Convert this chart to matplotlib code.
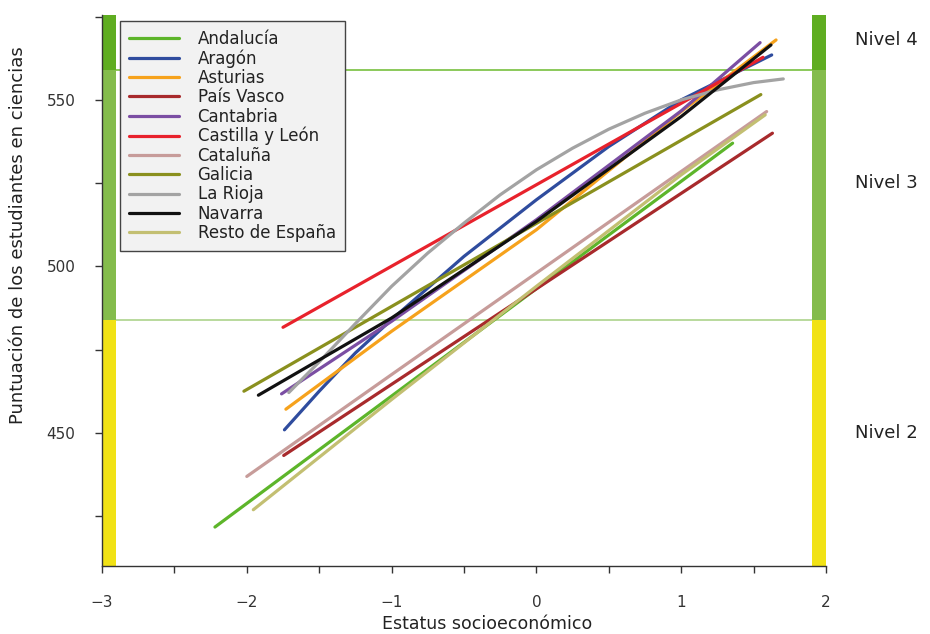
import matplotlib
matplotlib.use('Agg')
import matplotlib.pyplot as plt
import numpy as np

plt.rcParams['font.family'] = ['DejaVu Sans']

# regional lines: (x, y) points
regiones = ['Andalucía', 'Aragón', 'Asturias', 'País Vasco', 'Cantabria',
            'Castilla y León', 'Cataluña', 'Galicia', 'La Rioja', 'Navarra',
            'Resto de España']
colores = ['#5db52a', '#2f4c9e', '#f6a21c', '#a82a2c', '#7b4ea3',
           '#e8222c', '#c79c9a', '#8a901e', '#a3a3a3', '#111111', '#c3bf72']

andalucia_x = [-2.22, 1.355]
andalucia_y = [421.7, 537.0]
aragon_x = [-1.74, -1.5, -1.25, -1.0, -0.5, 0.0, 0.5, 1.0, 1.625]
aragon_y = [450.9, 462.5, 474.0, 484.0, 503.0, 520.0, 536.0, 550.0, 563.5]
asturias_x = [-1.73, -1.0, 0.0, 1.0, 1.655]
asturias_y = [457.1, 480.5, 511.0, 546.5, 568.0]
pais_vasco_x = [-1.745, 1.63]
pais_vasco_y = [443.2, 540.0]
cantabria_x = [-1.76, -1.0, 0.0, 1.0, 1.545]
cantabria_y = [461.7, 483.5, 514.0, 546.7, 567.2]
castilla_x = [-1.75, 1.565]
castilla_y = [481.7, 562.8]
cataluna_x = [-2.0, -1.0, 0.0, 1.0, 1.59]
cataluna_y = [436.9, 467.5, 498.0, 528.5, 546.5]
galicia_x = [-2.02, 1.55]
galicia_y = [462.5, 551.6]
rioja_x = [-1.71, -1.5, -1.25, -1.0, -0.75, -0.5, -0.25, 0.0, 0.25, 0.5, 0.75, 1.0, 1.25, 1.5, 1.705]
rioja_y = [462.1, 471.3, 482.8, 494.0, 504.0, 513.0, 521.5, 529.0, 535.5, 541.2, 546.0, 550.0, 553.0, 555.2, 556.3]
navarra_x = [-1.92, -1.0, 0.0, 1.0, 1.62]
navarra_y = [461.3, 484.5, 513.5, 545.0, 566.5]
resto_x = [-1.955, -1.0, 0.0, 1.0, 1.58]
resto_y = [426.9, 460.0, 494.0, 527.5, 545.5]

series_x = [andalucia_x, aragon_x, asturias_x, pais_vasco_x, cantabria_x,
            castilla_x, cataluna_x, galicia_x, rioja_x, navarra_x, resto_x]
series_y = [andalucia_y, aragon_y, asturias_y, pais_vasco_y, cantabria_y,
            castilla_y, cataluna_y, galicia_y, rioja_y, navarra_y, resto_y]

# proficiency levels
nivel_cortes = [484, 559]
nivel_labels = ['Nivel 2', 'Nivel 3', 'Nivel 4']
nivel_label_y = [450, 525, 568]

ymin, ymax = 410, 575.5
xmin, xmax = -3, 2

fig = plt.figure(figsize=(9.3, 6.34), dpi=100)
ax = fig.add_axes([102/930, 1-566/634, 724/930, 551/634])

# coloured bands on both sides
band_bottoms = [ymin, nivel_cortes[0], nivel_cortes[1]]
band_tops = [nivel_cortes[0], nivel_cortes[1], ymax + 1]
band_colors = ['#f1e215', '#84bc4c', '#5fad21']
for xb in [-3, 1.9]:
    ax.bar([xb]*3, np.array(band_tops) - np.array(band_bottoms), bottom=band_bottoms,
           width=0.1, align='edge', color=band_colors, linewidth=0, zorder=1)

ax.hlines(nivel_cortes, -2.9, 1.9, colors=['#a6d083', '#6cbb2d'], linewidth=1.1, zorder=1)

for name, c, xs, ys in zip(regiones, colores, series_x, series_y):
    ax.plot(xs, ys, color=c, linewidth=2.3, solid_capstyle='round',
            solid_joinstyle='round', label=name, zorder=3)

ax.set_xlim(xmin, xmax)
ax.set_ylim(ymin, ymax)

ax.spines['top'].set_visible(False)
ax.spines['right'].set_visible(False)
for s in ['left', 'bottom']:
    ax.spines[s].set_color('#333333')
    ax.spines[s].set_linewidth(1.0)

ax.set_xticks([-3, -2, -1, 0, 1, 2])
ax.set_xticklabels(['\u22123', '\u22122', '\u22121', '0', '1', '2'])
ax.set_xticks([-2.5, -1.5, -0.5, 0.5, 1.5], minor=True)
ax.set_yticks([450, 500, 550])
ax.set_yticks([425, 475, 525, 575], minor=True)
ax.tick_params(axis='both', which='both', direction='out', length=5, width=1,
               color='#333333', labelsize=11, labelcolor='#333333')
ax.tick_params(axis='x', which='major', pad=16)
ax.tick_params(axis='y', which='major', pad=14)

for lab, yv in zip(nivel_labels, nivel_label_y):
    ax.text(1.04, yv, lab, transform=ax.get_yaxis_transform(), ha='left',
            va='center', fontsize=13, color='#222222')

fig.text(487/930, 1-624/634, 'Estatus socioeconómico', ha='center', va='center',
         fontsize=12.5, color='#222222')
fig.text(18/930, 1-235/634, 'Puntuación de los estudiantes en ciencias',
         rotation=90, ha='center', va='center', fontsize=13, color='#222222')

leg = ax.legend(loc='upper left', bbox_to_anchor=(0.025, 0.99), borderaxespad=0,
                fontsize=12, labelspacing=0.08, handlelength=3.0, handletextpad=1.1,
                borderpad=0.55, frameon=True, fancybox=False)
leg.get_frame().set_facecolor('#f2f2f2')
leg.get_frame().set_edgecolor('#444444')
leg.get_frame().set_alpha(1)
leg.get_frame().set_linewidth(1.0)
for t in leg.get_texts():
    t.set_color('#222222')

fig.savefig('out.png', dpi=100)
